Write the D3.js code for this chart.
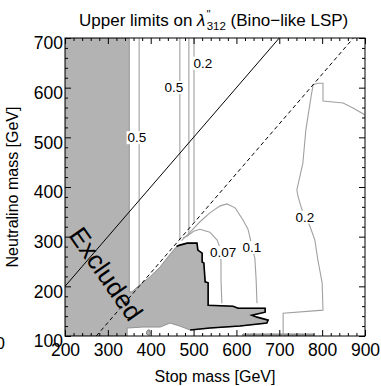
<!DOCTYPE html>
<html>
<head>
<meta charset="utf-8">
<script src="https://cdnjs.cloudflare.com/ajax/libs/d3/7.8.5/d3.min.js"></script>
<style>
  body { margin: 0; background: #fff; }
  svg { font-family: "Liberation Sans", Arial, sans-serif; }
  .contour { fill: none; stroke: #a0a0a0; stroke-width: 1.1; }
</style>
</head>
<body>
<svg id="chart" width="381" height="386"></svg>
<script>
// axis ticks
var stopTicks = [200, 300, 400, 500, 600, 700, 800, 900];
var chiTicks = [100, 200, 300, 400, 500, 600, 700];

// excluded (grey) region, [stop, neutralino] in GeV
var excludedRegion = [[200,100],[200,700],[350,700],[350,189],[356,189],[375,203],
    [398,219],[422,239],[438,257],[457,277],[468,283],[485,287],[508,287],[510,273],
    [520,267],[520,249],[524,247],[527,209],[534,207],[534,162],[592,160],[604,156],
    [667,156],[667,148],[636,142],[648,138],[674,132],[671,126],[608,120],[538,116],
    [492,112],[468,120],[445,126],[422,118],[382,118],[345,116],[345,100]];
var blackContour = [[460,280],[468,283],[485,287],[508,287],[510,273],[520,267],
    [520,249],[524,247],[527,209],[534,207],[534,162],[592,160],[604,156],[667,156],
    [667,148],[636,142],[648,138],[674,132],[671,126],[608,120],[538,116],[492,112]];
var bottomStrip = [[615,100],[615,104],[780,104],[780,100]];
var smallBlob = [[390,104],[391,110],[396,113],[399,107],[397,101]];

// upper-limit contours
var contours = [
  [[373,700],[373,201]],
  [[468,700],[468,293]],
  [[489,700],[489,305]],
  [[501,700],[501,330]],
  [[475,298],[485,301],[500,311],[515,315],[538,309],[555,293],[562,277],[564,249],
   [564,213],[566,166]],
  [[472,292],[492,309],[515,330],[538,348],[562,362],[578,366],[597,358],[615,334],
   [627,315],[632,297],[636,279],[643,257],[646,213],[648,166]],
  [[900,545],[872,559],[849,569],[802,573],[802,609],[790,609],[779,606],[774,581],
   [762,515],[755,448],[741,394],[744,380],[753,354],[762,338],[772,320],[783,293],
   [790,253],[800,207],[802,152],[709,146],[709,100]]
];
var contourLabels = [
  {stop: 368, chi: 500, text: "0.5"},
  {stop: 454, chi: 601, text: "0.5"},
  {stop: 522, chi: 650, text: "0.2"},
  {stop: 569, chi: 269, text: "0.07"},
  {stop: 636, chi: 279, text: "0.1"},
  {stop: 760, chi: 340, text: "0.2"}
];

// kinematic lines: m_chi = m_stop and m_chi = m_stop - m_top
var diagonalLine = [[200,200],[700,700]];
var topLine = [[273,100],[873,700]];

var margin = {top: 38, right: 16, bottom: 50, left: 65};
var width = 300;
var height = 298;

var xScale = d3.scaleLinear().domain([200, 900]).range([0, width]);
var yScale = d3.scaleLinear().domain([100, 700]).range([height, 0]);
var line = d3.line()
    .x(function(d) { return xScale(d[0]); })
    .y(function(d) { return yScale(d[1]); });

var svg = d3.select("#chart");

svg.append("defs").append("clipPath")
    .attr("id", "plot-clip")
    .append("rect")
        .attr("width", width)
        .attr("height", height);

var chart = svg.append("g")
    .attr("transform", `translate(${margin.left}, ${margin.top})`);

var plot = chart.append("g")
    .attr("clip-path", "url(#plot-clip)");

plot.append("path")
    .attr("d", line(excludedRegion) + "Z")
    .attr("fill", "#b3b3b3")
    .attr("stroke", "#8a8a8a")
    .attr("stroke-width", 0.9);
[bottomStrip, smallBlob].forEach(function(p) {
  plot.append("path")
      .attr("d", line(p) + "Z")
      .attr("fill", "#b3b3b3")
      .attr("stroke", "#777")
      .attr("stroke-width", 0.9);
});

plot.selectAll("path.contour")
    .data(contours)
    .enter().append("path")
        .attr("class", "contour")
        .attr("d", line);

plot.append("path")
    .attr("d", line(blackContour))
    .attr("fill", "none")
    .attr("stroke", "#000")
    .attr("stroke-width", 1.6);

plot.append("path")
    .attr("d", line(diagonalLine))
    .attr("fill", "none")
    .attr("stroke", "#000")
    .attr("stroke-width", 1);
plot.append("path")
    .attr("d", line(topLine))
    .attr("fill", "none")
    .attr("stroke", "#000")
    .attr("stroke-width", 1)
    .attr("stroke-dasharray", "4,3");

var label = plot.selectAll("g.clabel")
    .data(contourLabels)
    .enter().append("g")
        .attr("class", "clabel")
        .attr("transform", function(d) {
            return `translate(${xScale(d.stop)}, ${yScale(d.chi)})`; });
label.append("rect")
    .attr("fill", "#fff");
label.append("text")
    .attr("text-anchor", "middle")
    .attr("dy", "0.36em")
    .style("font-size", "13.5px")
    .text(function(d) { return d.text; });
label.each(function() {
  var g = d3.select(this);
  var box = g.select("text").node().getBBox();
  g.select("rect")
      .attr("x", box.x - 1)
      .attr("y", box.y + 1)
      .attr("width", box.width + 2)
      .attr("height", box.height - 2);
});

plot.append("text")
    .attr("transform", `translate(${xScale(296)}, ${yScale(225)}) rotate(55)`)
    .attr("text-anchor", "middle")
    .attr("dy", "0.35em")
    .style("font-size", "26px")
    .text("Excluded");

// frame and inward ticks on all four sides
chart.append("rect")
    .attr("width", width)
    .attr("height", height)
    .attr("fill", "none")
    .attr("stroke", "#000")
    .attr("stroke-width", 1);

var stopMinor = d3.range(200, 901, 20).filter(function(v) { return v % 100 != 0; });
var chiMinor = d3.range(100, 701, 20).filter(function(v) { return v % 100 != 0; });

function tickAxis(axis, values, size, labels) {
  axis.tickValues(values).tickSizeInner(-size).tickSizeOuter(0);
  if (!labels) axis.tickFormat("");
  return axis;
}

[[stopTicks, 6, true], [stopMinor, 3, false]].forEach(function(t) {
  chart.append("g")
      .attr("class", "x axis")
      .attr("transform", `translate(0, ${height})`)
      .call(tickAxis(d3.axisBottom(xScale), t[0], t[1], t[2]).tickPadding(8));
  chart.append("g")
      .attr("class", "x axis")
      .call(tickAxis(d3.axisTop(xScale), t[0], t[1], false));
});
[[chiTicks, 6, true], [chiMinor, 3, false]].forEach(function(t) {
  chart.append("g")
      .attr("class", "y axis")
      .call(tickAxis(d3.axisLeft(yScale), t[0], t[1], t[2]).tickPadding(2));
  chart.append("g")
      .attr("class", "y axis")
      .attr("transform", `translate(${width}, 0)`)
      .call(tickAxis(d3.axisRight(yScale), t[0], t[1], false));
});
chart.selectAll(".axis path.domain").remove();
chart.selectAll(".axis text")
    .style("font-size", "17.5px")
    .attr("fill", "#000")
    .style("font-family", "'Liberation Sans', Arial, sans-serif");
chart.selectAll(".y.axis text").attr("dy", "0.62em");

chart.append("text")
    .attr("x", width / 2)
    .attr("y", height + 46)
    .attr("text-anchor", "middle")
    .style("font-size", "16px")
    .text("Stop mass [GeV]");
chart.append("text")
    .attr("transform", `translate(-47, ${height / 2}) rotate(-90)`)
    .attr("text-anchor", "middle")
    .style("font-size", "16px")
    .text("Neutralino mass [GeV]");

var title = svg.append("text")
    .attr("x", 79)
    .attr("y", 26)
    .style("font-size", "17px");
title.append("tspan").text("Upper limits on ");
title.append("tspan").style("font-style", "italic").text("λ");
title.append("tspan").attr("dx", 1).attr("dy", -8).style("font-size", "11px").text("''");
title.append("tspan").attr("dx", -4).attr("dy", 12).style("font-size", "11.5px").text("312");
title.append("tspan").attr("dy", -4).text(" (Bino−like LSP)");

svg.append("text")
    .attr("x", 5)
    .attr("y", 349)
    .attr("text-anchor", "end")
    .style("font-size", "17px")
    .text("0");
</script>
</body>
</html>
